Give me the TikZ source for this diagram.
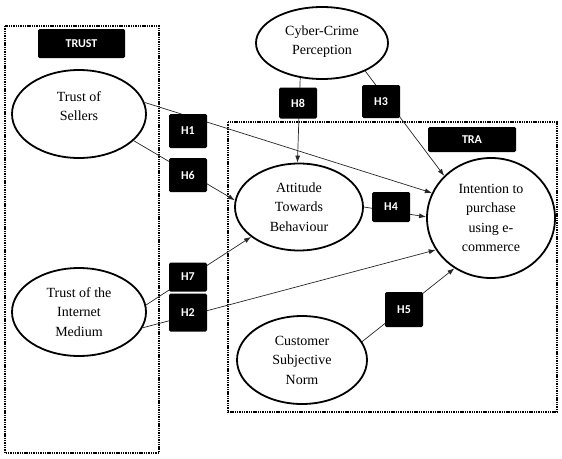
\documentclass[tikz,border=0pt]{standalone}
\usepackage{fontspec}
\setmainfont{Liberation Serif}
\newfontfamily\hfont{Carlito}
\usetikzlibrary{shapes.geometric,arrows.meta}
\begin{document}
\begin{tikzpicture}[x=1pt,y=-1pt,
  construct/.style={ellipse,draw,line width=1.8pt,inner sep=0pt,align=center,
    font=\fontsize{14}{19.5}\selectfont},
  hbox/.style={fill=black,rounded corners=1.5pt,text=white,font=\hfont\bfseries\fontsize{12}{14}\selectfont,
    minimum width=38pt,minimum height=34pt,inner sep=0pt},
  group/.style={draw,line width=1.4pt,dash pattern=on 1.4pt off 0.9pt},
  conn/.style={draw,line width=0.7pt,black!85,-{Latex[length=7pt,width=5pt]}}]
\useasboundingbox (0,0) rectangle (562,458);
% group boxes
\draw[group] (5,26) rectangle (159,453);
\draw[group] (228,122) rectangle (557,412);
\node[hbox,minimum width=87pt,minimum height=29pt] (trust) at (81.5,43.5) {TRUST};
\node[hbox,minimum width=88pt,minimum height=25pt] (tra) at (472,139.5) {TRA};
% constructs
\node[construct,minimum width=134pt,minimum height=88pt] (sellers) at (79,114)
  {\raisebox{7pt}[\height][\depth]{\begin{tabular}{@{}c@{}}Trust of\\Sellers\end{tabular}}};
\node[construct,minimum width=134pt,minimum height=88pt] (internet) at (79,312) {Trust of the\\Internet\\Medium};
\node[construct,minimum width=132pt,minimum height=72pt] (cyber) at (322,43)
  {\raisebox{2pt}[\height][\depth]{\begin{tabular}{@{}c@{}}Cyber-Crime\\Perception\end{tabular}}};
\node[construct,minimum width=128pt,minimum height=87pt] (attitude) at (299,207) {Attitude\\Towards\\Behaviour};
\node[construct,minimum width=128pt,minimum height=120pt] (intention) at (491,218) {Intention to\\purchase\\using e-\\commerce};
\node[construct,minimum width=130pt,minimum height=88pt] (norm) at (302,360) {Customer\\Subjective\\Norm};
% connectors
\draw[conn] (sellers.10) -- (intention.157);
\draw[conn] (sellers.-26) -- (attitude.174);
\draw[conn] (cyber.-122) -- (attitude.92);
\draw[conn] (cyber.-33) -- (intention.138);
\draw[conn] (attitude.east) -- (intention.179);
\draw[conn] (internet.6) -- (attitude.-148);
\draw[conn] (internet.-14) -- (intention.-150);
\draw[conn] (norm.17) -- (intention.-126);
% hypothesis labels
\node[hbox] (h1) at (188,131) {H1};
\node[hbox] (h6) at (188,175) {H6};
\node[hbox,minimum height=31pt] (h8) at (298,103) {H8};
\node[hbox,minimum height=33pt] (h3) at (381,101.5) {H3};
\node[hbox,minimum height=30pt] (h4) at (391,207) {H4};
\node[hbox,minimum height=29pt] (h7) at (188,277) {H7};
\node[hbox,minimum height=38pt] (h2) at (188,312.5) {H2};
\node[hbox,minimum height=35pt] (h5) at (404,309.5) {H5};
\end{tikzpicture}
\end{document}
